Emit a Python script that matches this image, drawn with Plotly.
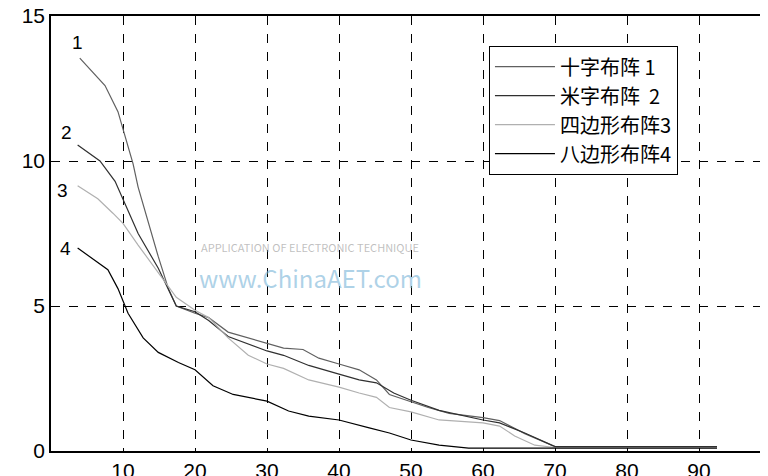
import plotly.graph_objects as go

# curve data
x1 = [4, 7.5, 9.3, 10, 11.4, 12.1, 13.5, 14.9, 16.3, 17.4, 20, 21.9, 24.6, 27.4, 30, 32.3, 35, 37.2, 40, 42.8, 45.2, 47, 50, 52.4, 55.3, 60, 62.3, 65.8, 70, 92.5]
y1 = [13.55, 12.6, 11.7, 11.1, 9.9, 9.1, 7.9, 6.7, 5.6, 5.0, 4.75, 4.6, 4.1, 3.9, 3.7, 3.55, 3.5, 3.2, 3.0, 2.8, 2.45, 1.95, 1.7, 1.5, 1.3, 1.15, 1.05, 0.6, 0.15, 0.15]
x2 = [3.7, 6.8, 8.9, 10, 12.1, 14.9, 17.4, 20, 21.9, 24.6, 27.4, 30, 32.3, 35.8, 40, 42.8, 45.2, 47.6, 50, 53.9, 60, 62.3, 65.8, 70, 92.5]
y2 = [10.55, 10.0, 9.3, 8.7, 7.5, 6.3, 5.0, 4.8, 4.5, 3.95, 3.7, 3.45, 3.3, 2.95, 2.65, 2.45, 2.35, 2.0, 1.75, 1.4, 1.07, 0.97, 0.62, 0.15, 0.15]
x3 = [3.7, 6.5, 8.6, 10, 12.1, 14.9, 17.4, 20, 21.9, 24.6, 27.4, 30, 32.3, 35.8, 40, 42.8, 45.2, 47, 50, 53.9, 60, 62.3, 64.4, 67.2, 70, 92.5]
y3 = [9.15, 8.7, 8.2, 7.85, 7.1, 6.15, 5.3, 4.85, 4.6, 3.9, 3.3, 3.0, 2.85, 2.45, 2.2, 2.0, 1.85, 1.5, 1.35, 1.07, 0.97, 0.86, 0.52, 0.2, 0.12, 0.12]
x4 = [3.7, 7.9, 9.3, 10.7, 12.8, 14.9, 17.7, 20, 22.5, 25.3, 30, 33, 35.8, 40, 44.2, 47, 50, 53.9, 58, 60, 92.5]
y4 = [7.0, 6.25, 5.6, 4.75, 3.9, 3.4, 3.05, 2.8, 2.25, 1.95, 1.72, 1.38, 1.2, 1.07, 0.8, 0.62, 0.38, 0.2, 0.1, 0.1, 0.1]

names = ["十字布阵 1", "米字布阵  2", "四边形布阵3", "八边形布阵4"]
colors = ["#606060", "#303030", "#b0b0b0", "#000000"]
tag_x = [3.7, 2.2, 1.6, 2.0]
tag_y = [14.1, 11.0, 9.0, 7.0]

fig = go.Figure()
for xs, ys, n, c in zip([x1, x2, x3, x4], [y1, y2, y3, y4], names, colors):
    fig.add_trace(go.Scatter(x=xs, y=ys, mode="lines", name=n,
                             line=dict(color=c, width=1.2)))

for i in range(4):
    fig.add_annotation(x=tag_x[i], y=tag_y[i], text=str(i + 1), showarrow=False,
                       font=dict(size=19, color="black", family="Arial"))

# watermark
fig.add_annotation(x=0.36, y=0.40, xref="paper", yref="paper", text="www.ChinaAET.com",
                   showarrow=False, font=dict(size=24, color="rgba(120,180,215,0.6)"))
fig.add_annotation(x=0.36, y=0.47, xref="paper", yref="paper",
                   text="APPLICATION OF ELECTRONIC TECHNIQUE",
                   showarrow=False, font=dict(size=11, color="rgba(150,150,150,0.6)"))

axis_common = dict(showline=True, linecolor="black", linewidth=1.5, mirror=True,
                   showgrid=True, gridcolor="black", griddash="dash", gridwidth=1,
                   zeroline=False, ticks="", automargin=False, ticklabeloverflow="allow",
                   tickfont=dict(size=21, color="black", family="Arial"))
fig.update_xaxes(range=[0, 100], tickvals=[10, 20, 30, 40, 50, 60, 70, 80, 90], **axis_common)
fig.update_yaxes(range=[0, 15], tickvals=[0, 5, 10, 15], **axis_common)

fig.update_layout(
    width=768, height=476, margin=dict(l=43, r=5, t=8, b=33),
    plot_bgcolor="white", paper_bgcolor="white",
    font=dict(family="Noto Sans CJK SC, Arial", color="black"),
    legend=dict(x=0.608, y=0.931, xanchor="left", yanchor="top",
                bgcolor="white", bordercolor="black", borderwidth=1.2,
                font=dict(size=20), itemwidth=60),
)

fig.write_html("out.html")
